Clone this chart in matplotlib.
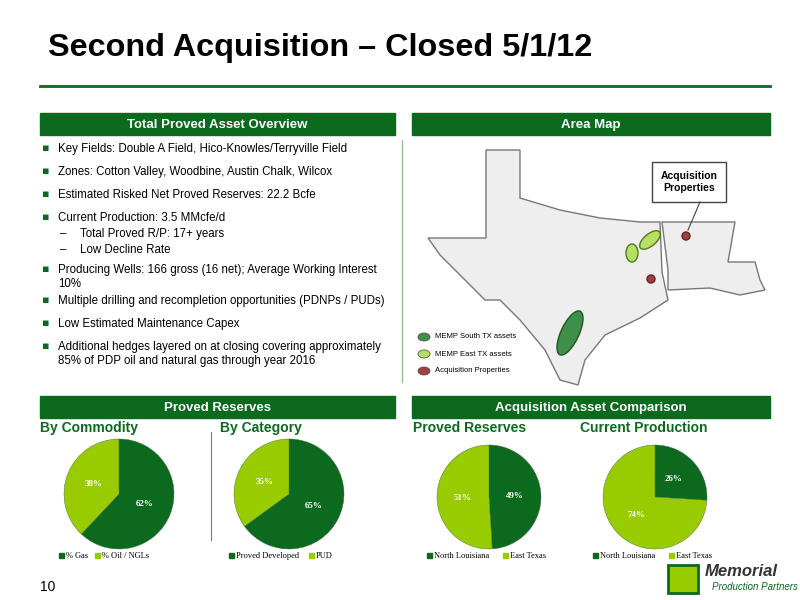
import matplotlib.pyplot as plt
from matplotlib.patches import Rectangle, Polygon, Ellipse, Circle

DARK = "#0b6a1d"
LIGHT = "#99cc00"

# pie data
pies = [
    ("By Commodity", ["% Gas", "% Oil / NGLs"], [62, 38]),
    ("By Category", ["Proved Developed", "PUD"], [65, 35]),
    ("Proved Reserves", ["North Louisiana", "East Texas"], [49, 51]),
    ("Current Production", ["North Louisiana", "East Texas"], [26, 74]),
]
title_x = [40, 220, 413, 580]
pie_cx = [119, 289, 489, 655]
pie_cy = [494, 494, 497, 497]
pie_r = [55, 55, 52, 52]

bullets = [
    (0, "Key Fields: Double A Field, Hico-Knowles/Terryville Field"),
    (0, "Zones: Cotton Valley, Woodbine, Austin Chalk, Wilcox"),
    (0, "Estimated Risked Net Proved Reserves: 22.2 Bcfe"),
    (0, "Current Production: 3.5 MMcfe/d"),
    (1, "Total Proved R/P: 17+ years"),
    (1, "Low Decline Rate"),
    (0, "Producing Wells: 166 gross (16 net); Average Working Interest\n10%"),
    (0, "Multiple drilling and recompletion opportunities (PDNPs / PUDs)"),
    (0, "Low Estimated Maintenance Capex"),
    (0, "Additional hedges layered on at closing covering approximately\n85% of PDP oil and natural gas through year 2016"),
]
bullet_y = [143, 166, 189, 212, 228, 244, 264, 295, 318, 341]

# rough outlines for the map (pixel coords)
texas = [(486, 150), (520, 150), (520, 198), (560, 210), (600, 218), (640, 222), (660, 222),
         (662, 272), (668, 300), (640, 318), (605, 335), (585, 360), (578, 385), (560, 380),
         (545, 350), (520, 320), (500, 300), (485, 300), (470, 285), (455, 270), (440, 255),
         (428, 238), (470, 238), (486, 238)]
louisiana = [(662, 222), (735, 222), (728, 262), (755, 262), (760, 280), (765, 290),
             (740, 295), (710, 288), (668, 290), (668, 270)]

fig = plt.figure(figsize=(8, 6), dpi=100)
W, H = 800, 600


def ax_px(x, y, w, h):
    return fig.add_axes([x / W, 1 - (y + h) / H, w / W, h / H])


bg = ax_px(0, 0, W, H)
bg.set_xlim(0, W)
bg.set_ylim(H, 0)
bg.axis("off")

bg.text(48, 48, "Second Acquisition \u2013 Closed 5/1/12", fontsize=23.3, fontweight="bold",
        va="center", family="Liberation Sans")
bg.plot([40, 770], [86, 86], color=DARK, lw=2)

for x0, x1, y0, y1, t in [(40, 395, 113, 135, "Total Proved Asset Overview"),
                          (412, 770, 113, 135, "Area Map"),
                          (40, 395, 396, 418, "Proved Reserves"),
                          (412, 770, 396, 418, "Acquisition Asset Comparison")]:
    bg.add_patch(Rectangle((x0, y0), x1 - x0, y1 - y0, color=DARK))
    bg.text((x0 + x1) / 2, (y0 + y1) / 2 + 1, t, color="white", fontsize=9.5, fontweight="bold",
            ha="center", va="center", family="Liberation Sans")

for (lvl, t), y in zip(bullets, bullet_y):
    if lvl == 0:
        bg.text(42, y, "\u25aa", color=DARK, fontsize=8, va="top")
        bg.text(58, y, t, fontsize=8.3, va="top", family="Liberation Sans", linespacing=1.2)
    else:
        bg.text(60, y, "\u2013", fontsize=8.3, va="top", family="Liberation Sans")
        bg.text(80, y, t, fontsize=8.3, va="top", family="Liberation Sans")

bg.plot([402, 402], [140, 382], color="#9bbf9b", lw=1)
bg.plot([211, 211], [432, 540], color="#4a9a4a", lw=0.8)

# map
bg.add_patch(Polygon(texas, closed=True, fc="#eeeeee", ec="#777777", lw=1))
bg.add_patch(Polygon(louisiana, closed=True, fc="#eeeeee", ec="#777777", lw=1))
bg.add_patch(Ellipse((570, 333), 18, 48, angle=25, fc="#3d8f4a", ec="#225522"))
bg.add_patch(Ellipse((650, 240), 25, 12, angle=-40, fc="#b5e061", ec="#557722"))
bg.add_patch(Ellipse((632, 253), 12, 18, fc="#b5e061", ec="#557722"))
bg.add_patch(Circle((686, 236), 4, fc="#a04040", ec="#662222"))
bg.add_patch(Circle((651, 279), 4, fc="#a04040", ec="#662222"))
bg.add_patch(Rectangle((652, 162), 74, 40, fc="white", ec="#444444"))
bg.text(689, 182, "Acquisition\nProperties", ha="center", va="center", fontsize=7.5,
        fontweight="bold", family="Liberation Sans")
bg.plot([700, 688], [202, 230], color="#444444", lw=0.8)
for y, c, t in [(337, "#3d8f4a", "MEMP South TX assets"), (354, "#b5e061", "MEMP East TX assets"),
                (371, "#a04040", "Acquisition Properties")]:
    bg.add_patch(Ellipse((424, y), 12, 8, fc=c, ec="#555555", lw=0.6))
    bg.text(435, y, t, fontsize=5.5, va="center", family="Liberation Sans")

# pies
for (title, labels, vals), tx, cx, cy, r in zip(pies, title_x, pie_cx, pie_cy, pie_r):
    bg.text(tx, 428, title, color=DARK, fontsize=10, fontweight="bold", va="center",
            family="Liberation Sans")
    ax = ax_px(cx - r, cy - r, 2 * r, 2 * r)
    ax.pie(vals, colors=[DARK, LIGHT], startangle=90, counterclock=False,
           autopct="%d%%", pctdistance=0.5, radius=1.0,
           textprops=dict(fontsize=6.5, family="Liberation Serif", fontweight="bold",
                          color="white"),
           wedgeprops=dict(edgecolor="#446644", linewidth=0.3))
    ax.set_xlim(-1, 1)
    ax.set_ylim(-1, 1)
    lx = cx - 60 if r > 53 else cx - 62
    for lab, c in zip(labels, [DARK, LIGHT]):
        bg.add_patch(Rectangle((lx, 553), 5, 5, color=c))
        bg.text(lx + 7, 556, lab, fontsize=6, va="center", family="Liberation Serif")
        lx += 16 + len(lab) * 4.0

bg.text(40, 587, "10", fontsize=10, va="center", family="Liberation Sans")
# logo
bg.add_patch(Rectangle((668, 565), 30, 28, fc=LIGHT, ec=DARK, lw=2))
bg.text(705, 572, "Memorial", fontsize=12, fontweight="bold", color="#333333",
        va="center", family="Liberation Sans", style="italic")
bg.text(712, 587, "Production Partners", fontsize=7, color=DARK, va="center",
        family="Liberation Sans", style="italic")

fig.savefig("out.png", dpi=100)
